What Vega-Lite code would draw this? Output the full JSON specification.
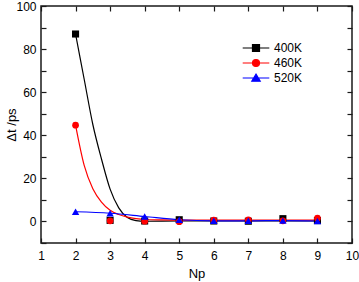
{
  "$schema": "https://vega.github.io/schema/vega-lite/v6.json",
  "width": 311,
  "height": 237,
  "autosize": {"type": "none"},
  "padding": {"left": 41, "top": 6, "right": 7, "bottom": 39},
  "config": {
    "view": {"stroke": "#1a1a1a", "strokeWidth": 1.5},
    "font": "Liberation Sans",
    "axis": {
      "domain": false,
      "grid": false,
      "tickColor": "#1a1a1a",
      "tickWidth": 1.2,
      "labelColor": "#000000",
      "labelFontSize": 12,
      "titleColor": "#000000",
      "titleFontSize": 13,
      "titleFontWeight": "normal"
    },
    "legend": {
      "orient": "none",
      "legendX": 207,
      "legendY": 34,
      "title": null,
      "padding": 0,
      "symbolSize": 196,
      "symbolStrokeWidth": 1.2,
      "labelOffset": 10,
      "labelFontSize": 12,
      "labelColor": "#000000",
      "rowPadding": 1
    }
  },
  "datasets": {
    "curves": [
      {"series": "400K", "Np": 2, "dt": 87},
      {"series": "400K", "Np": 2.25, "dt": 66},
      {"series": "400K", "Np": 2.5, "dt": 45},
      {"series": "400K", "Np": 2.75, "dt": 29},
      {"series": "400K", "Np": 3, "dt": 15},
      {"series": "400K", "Np": 3.25, "dt": 6.3},
      {"series": "400K", "Np": 3.5, "dt": 1.8},
      {"series": "400K", "Np": 3.75, "dt": 0.4},
      {"series": "400K", "Np": 4, "dt": 0.1},
      {"series": "400K", "Np": 5, "dt": 0.2},
      {"series": "400K", "Np": 6, "dt": 0.2},
      {"series": "400K", "Np": 7, "dt": 0.2},
      {"series": "400K", "Np": 8, "dt": 0.2},
      {"series": "400K", "Np": 9, "dt": 0.2},
      {"series": "460K", "Np": 2, "dt": 44.7},
      {"series": "460K", "Np": 2.25, "dt": 26},
      {"series": "460K", "Np": 2.5, "dt": 15.2},
      {"series": "460K", "Np": 2.75, "dt": 9},
      {"series": "460K", "Np": 3, "dt": 5.2},
      {"series": "460K", "Np": 3.25, "dt": 3.2},
      {"series": "460K", "Np": 3.5, "dt": 2},
      {"series": "460K", "Np": 3.75, "dt": 1.3},
      {"series": "460K", "Np": 4, "dt": 0.9},
      {"series": "460K", "Np": 4.5, "dt": 0.7},
      {"series": "460K", "Np": 5, "dt": 0.6},
      {"series": "460K", "Np": 6, "dt": 0.6},
      {"series": "460K", "Np": 7, "dt": 0.6},
      {"series": "460K", "Np": 8, "dt": 0.6},
      {"series": "460K", "Np": 9, "dt": 0.6},
      {"series": "520K", "Np": 2, "dt": 4.5},
      {"series": "520K", "Np": 3, "dt": 3.8},
      {"series": "520K", "Np": 4, "dt": 2.3},
      {"series": "520K", "Np": 5, "dt": 0.8},
      {"series": "520K", "Np": 6, "dt": 0.3},
      {"series": "520K", "Np": 7, "dt": 0.3},
      {"series": "520K", "Np": 8, "dt": 0.4},
      {"series": "520K", "Np": 9, "dt": 0.2}
    ],
    "points": [
      {"series": "400K", "Np": 2, "dt": 87},
      {"series": "400K", "Np": 3, "dt": 0.5},
      {"series": "400K", "Np": 4, "dt": 0.2},
      {"series": "400K", "Np": 5, "dt": 0.8},
      {"series": "400K", "Np": 6, "dt": 0.2},
      {"series": "400K", "Np": 7, "dt": 0.1},
      {"series": "400K", "Np": 8, "dt": 1.3},
      {"series": "400K", "Np": 9, "dt": 0.4},
      {"series": "460K", "Np": 2, "dt": 44.7},
      {"series": "460K", "Np": 3, "dt": 0.3},
      {"series": "460K", "Np": 4, "dt": 0.1},
      {"series": "460K", "Np": 5, "dt": -0.1},
      {"series": "460K", "Np": 6, "dt": 0.6},
      {"series": "460K", "Np": 7, "dt": 0.8},
      {"series": "460K", "Np": 8, "dt": 0.3},
      {"series": "460K", "Np": 9, "dt": 1.5},
      {"series": "520K", "Np": 2, "dt": 4.5},
      {"series": "520K", "Np": 3, "dt": 3.8},
      {"series": "520K", "Np": 4, "dt": 2.3},
      {"series": "520K", "Np": 5, "dt": 0.8},
      {"series": "520K", "Np": 6, "dt": 0.3},
      {"series": "520K", "Np": 7, "dt": 0.3},
      {"series": "520K", "Np": 8, "dt": 0.4},
      {"series": "520K", "Np": 9, "dt": 0.2}
    ]
  },
  "layer": [
    {
      "data": {"name": "curves"},
      "mark": {"type": "line", "interpolate": "monotone", "strokeWidth": 1.2},
      "encoding": {
        "x": {
          "field": "Np", "type": "quantitative",
          "scale": {"domain": [1, 10], "nice": false, "zero": false},
          "axis": {"orient": "bottom", "values": [1, 2, 3, 4, 5, 6, 7, 8, 9, 10], "tickSize": -5, "labelPadding": 12, "labelFlush": false, "title": "Np", "titlePadding": 6}
        },
        "y": {
          "field": "dt", "type": "quantitative",
          "scale": {"domain": [-10, 100], "nice": false, "zero": false},
          "axis": {
            "orient": "left", "values": [-10, 0, 10, 20, 30, 40, 50, 60, 70, 80, 90, 100],
            "labelExpr": "datum.value >= 0 && datum.value % 20 == 0 ? datum.label : ''",
            "tickSize": -5, "labelPadding": 10, "labelFlush": false, "title": "Δt /ps", "titlePadding": -3,
            "encode": {"ticks": {"update": {"x2": {"signal": "datum.value % 20 == 0 ? 5 : 2.5"}}}}
          }
        },
        "color": {
          "field": "series", "type": "nominal",
          "scale": {"domain": ["400K", "460K", "520K"], "range": ["#000000", "#ff0000", "#0000ff"]},
          "legend": {
            "encode": {
              "symbols": {
                "update": {
                  "shape": {"signal": "datum.value == '400K' ? 'M-1.9,0H1.9M-0.5,-0.5H0.5V0.5H-0.5Z' : datum.value == '460K' ? 'M-1.9,0H1.9M0.5,0A0.5,0.5 0 1,1 -0.5,0A0.5,0.5 0 1,1 0.5,0Z' : 'M-1.9,0H1.9M0,-0.55L0.6,0.45H-0.6Z'"},
                  "stroke": {"signal": "datum.value == '400K' ? '#000000' : datum.value == '460K' ? '#ff0000' : '#0000ff'"},
                  "fill": {"signal": "datum.value == '400K' ? '#000000' : datum.value == '460K' ? '#ff0000' : '#0000ff'"},
                  "opacity": {"value": 1}
                }
              }
            }
          }
        }
      }
    },
    {
      "data": {"name": "points"},
      "transform": [{"filter": "datum.series == '400K'"}],
      "mark": {"type": "point", "filled": true, "opacity": 1, "size": 50, "shape": "square"},
      "encoding": {
        "x": {
          "field": "Np", "type": "quantitative",
          "scale": {"domain": [1, 10], "nice": false, "zero": false},
          "axis": {"orient": "top", "values": [1, 2, 3, 4, 5, 6, 7, 8, 9, 10], "tickSize": -5, "labels": false, "title": null}
        },
        "y": {
          "field": "dt", "type": "quantitative",
          "scale": {"domain": [-10, 100], "nice": false, "zero": false},
          "axis": {
            "orient": "right", "values": [-10, 0, 10, 20, 30, 40, 50, 60, 70, 80, 90, 100], "tickSize": -5, "labels": false, "title": null,
            "encode": {"ticks": {"update": {"x2": {"signal": "datum.value % 20 == 0 ? -5 : -2.5"}}}}
          }
        },
        "color": {
          "field": "series", "type": "nominal",
          "scale": {"domain": ["400K", "460K", "520K"], "range": ["#000000", "#ff0000", "#0000ff"]},
          "legend": null
        }
      }
    },
    {
      "data": {"name": "points"},
      "transform": [{"filter": "datum.series == '460K'"}],
      "mark": {"type": "point", "filled": true, "opacity": 1, "size": 45, "shape": "circle"},
      "encoding": {
        "x": {"field": "Np", "type": "quantitative", "scale": {"domain": [1, 10], "nice": false, "zero": false}, "axis": null},
        "y": {"field": "dt", "type": "quantitative", "scale": {"domain": [-10, 100], "nice": false, "zero": false}, "axis": null},
        "color": {
          "field": "series", "type": "nominal",
          "scale": {"domain": ["400K", "460K", "520K"], "range": ["#000000", "#ff0000", "#0000ff"]},
          "legend": null
        }
      }
    },
    {
      "data": {"name": "points"},
      "transform": [{"filter": "datum.series == '520K'"}],
      "mark": {"type": "point", "filled": true, "opacity": 1, "size": 55, "shape": "triangle-up"},
      "encoding": {
        "x": {"field": "Np", "type": "quantitative", "scale": {"domain": [1, 10], "nice": false, "zero": false}, "axis": null},
        "y": {"field": "dt", "type": "quantitative", "scale": {"domain": [-10, 100], "nice": false, "zero": false}, "axis": null},
        "color": {
          "field": "series", "type": "nominal",
          "scale": {"domain": ["400K", "460K", "520K"], "range": ["#000000", "#ff0000", "#0000ff"]},
          "legend": null
        }
      }
    }
  ],
  "resolve": {"scale": {"x": "independent", "y": "independent"}}
}
